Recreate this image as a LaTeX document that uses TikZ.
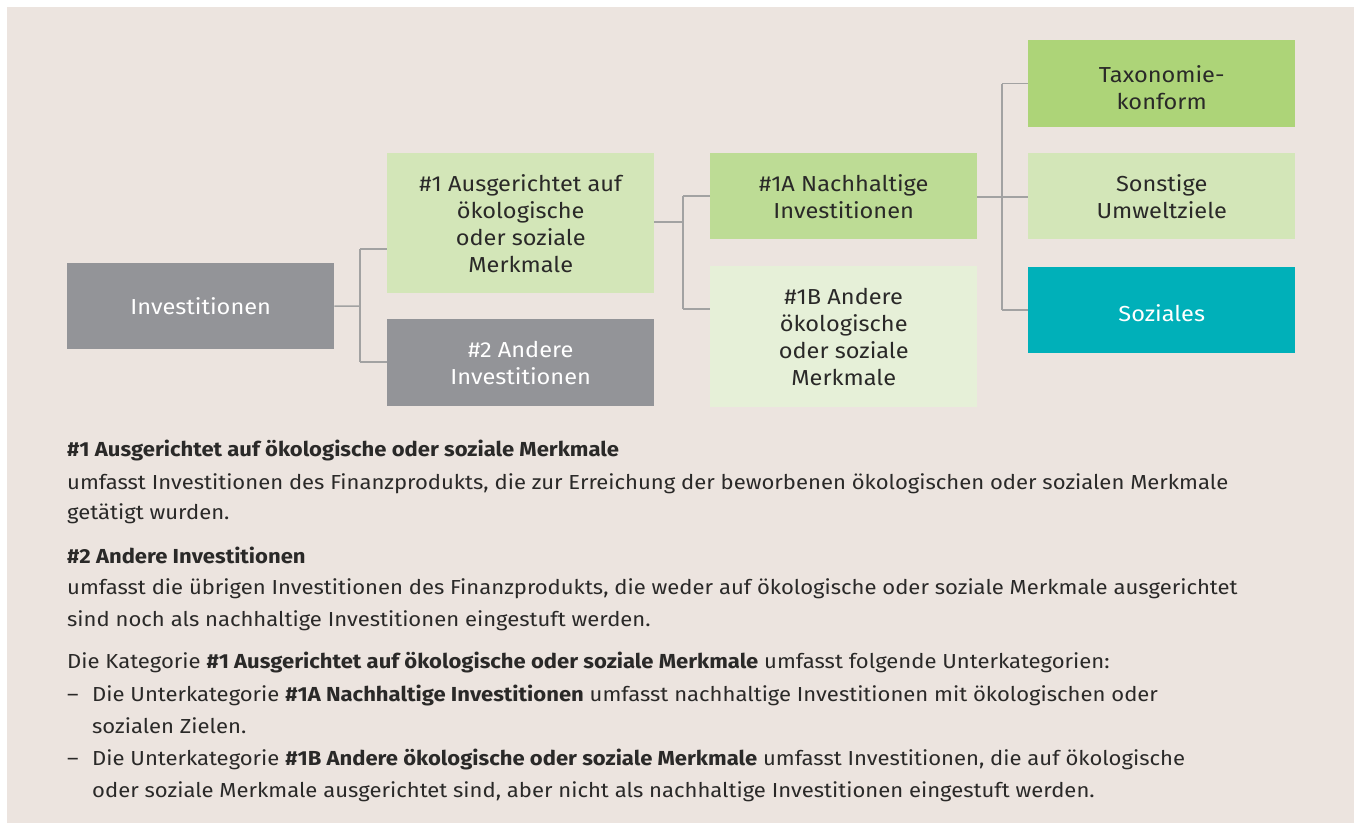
\documentclass[tikz,border=0pt]{standalone}
\usepackage{fontspec}
\setmainfont{Fira Sans}[FakeStretch=1.086]
\definecolor{bg}{HTML}{ECE4DF}
\definecolor{grayb}{HTML}{939498}
\definecolor{lgreen}{HTML}{D3E6B8}
\definecolor{mgreen}{HTML}{BDDC95}
\definecolor{dgreen}{HTML}{ADD478}
\definecolor{vlgreen}{HTML}{E6F0D8}
\definecolor{teal}{HTML}{00B0B9}
\definecolor{txt}{HTML}{2A2928}
\definecolor{conn}{HTML}{A2A2A2}
\newcommand\bxfont{\fontsize{21.7}{27}\selectfont}
\newcommand\bdfont{\fontsize{20.3}{31}\selectfont}
\tikzset{
  box/.style={rectangle, inner sep=0pt, minimum width=267pt, align=center,
    font=\bxfont, text=txt, anchor=north west},
  boxtext/.style={inner sep=0pt, align=center, font=\bxfont, text=txt},
  line/.style={anchor=base west, inner sep=0pt, font=\bdfont, text=txt},
  connector/.style={draw=conn, line width=1.5pt}
}
\begin{document}
\begin{tikzpicture}[x=1pt,y=-1pt]
\useasboundingbox (0,0) rectangle (1354,823);
\fill[white] (0,0) rectangle (1354,823);
\fill[bg] (7,7) rectangle (1354,823);

% boxes
\node[box, fill=grayb, text=white, minimum height=86pt] (inv) at (67,263) {Investitionen};
\node[box, fill=lgreen, minimum height=140pt] (n1) at (387,153) {\#1 Ausgerichtet auf\\ökologische\\oder soziale\\Merkmale};
\node[box, fill=grayb, text=white, minimum height=87pt] (n2) at (387,319) {\#2 Andere\\Investitionen};
\node[box, fill=mgreen, minimum height=86pt] (n1a) at (710,153) {\#1A Nachhaltige\\Investitionen};
\node[box, fill=vlgreen, minimum height=141pt] (n1b) at (710,266) {\#1B Andere\\ökologische\\oder soziale\\Merkmale};
\node[box, fill=dgreen, minimum height=87pt] (tax) at (1028,40) {};
\node[boxtext] (taxl) at ([yshift=-4pt]tax.center) {Taxonomie-\\konform};
\node[box, fill=lgreen, minimum height=86pt] (son) at (1028,153) {Sonstige\\Umweltziele};
\node[box, fill=teal, minimum height=86pt] (soz) at (1028,267) {};
\node[boxtext, text=white] (sozl) at ([yshift=-3pt]soz.center) {Soziales};

% junctions
\coordinate (j1) at (360,306);
\coordinate (j1t) at (360,249);
\coordinate (j1b) at (360,362);
\coordinate (j2) at (683,222);
\coordinate (j2t) at (683,196);
\coordinate (j2b) at (683,309);
\coordinate (j3) at (1002,197);

\draw[connector] (inv.east) -- (j1);
\draw[connector] (j1t) -- (j1b);
\draw[connector] (j1t) -- (j1t -| n1.west);
\draw[connector] (j1b) -- (j1b -| n2.west);
\draw[connector] (n1.east |- j2) -- (j2);
\draw[connector] (j2t) -- (j2b);
\draw[connector] (j2t) -- (j2t -| n1a.west);
\draw[connector] (j2b) -- (j2b -| n1b.west);
\draw[connector] (n1a.east |- j3) -- (j3);
\draw[connector] (tax.west -| j3) -- (soz.west -| j3);
\draw[connector] (tax.west -| j3) -- (tax.west);
\draw[connector] (j3) -- (son.west |- j3);
\draw[connector] (soz.west -| j3) -- (soz.west);

% text
\node[line] (t1) at (67,456.5) {\bfseries \#1 Ausgerichtet auf ökologische oder soziale Merkmale};
\node[line] (t2) at (67,489) {umfasst Investitionen des Finanzprodukts, die zur Erreichung der beworbenen ökologischen oder sozialen Merkmale};
\node[line] (t3) at (67,519) {getätigt wurden.};
\node[line] (t4) at (67,563) {\bfseries \#2 Andere Investitionen};
\node[line] (t5) at (67,594) {umfasst die übrigen Investitionen des Finanzprodukts, die weder auf ökologische oder soziale Merkmale ausgerichtet};
\node[line] (t6) at (67,626) {sind noch als nachhaltige Investitionen eingestuft werden.};
\node[line] (t7) at (67,668) {Die Kategorie \textbf{\#1 Ausgerichtet auf ökologische oder soziale Merkmale} umfasst folgende Unterkategorien:};
\node[line] (d1) at (67,701) {–};
\node[line] (t8) at (92,701) {Die Unterkategorie \textbf{\#1A Nachhaltige Investitionen} umfasst nachhaltige Investitionen mit ökologischen oder};
\node[line] (t9) at (92,733) {sozialen Zielen.};
\node[line] (d2) at (67,765) {–};
\node[line] (t10) at (92,765) {Die Unterkategorie \textbf{\#1B Andere ökologische oder soziale Merkmale} umfasst Investitionen, die auf ökologische};
\node[line] (t11) at (92,797) {oder soziale Merkmale ausgerichtet sind, aber nicht als nachhaltige Investitionen eingestuft werden.};
\end{tikzpicture}
\end{document}
